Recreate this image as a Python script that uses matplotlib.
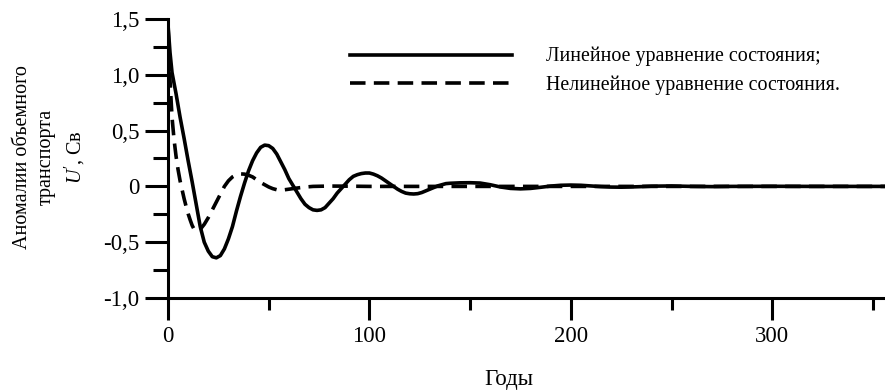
import matplotlib
matplotlib.use("Agg")
import matplotlib.pyplot as plt
from matplotlib.ticker import MultipleLocator, FixedLocator

plt.rcParams['font.family'] = ['Liberation Serif', 'DejaVu Serif']
plt.rcParams['mathtext.fontset'] = 'custom'
plt.rcParams['mathtext.rm'] = 'Liberation Serif'
plt.rcParams['mathtext.it'] = 'Liberation Serif:italic'

# ---- data (years, anomalies of volume transport, Sv) ----
t_lin = [0, 1, 2, 4, 6, 8, 10, 12, 14, 16, 18, 20, 22, 24, 26, 28, 30, 32, 34, 36,
         38, 40, 42, 44, 46, 48, 50, 52, 54, 56, 58, 60, 62, 64, 66, 68, 70, 72, 74,
         76, 78, 80, 82, 84, 86, 88, 90, 92, 94, 96, 98, 100, 102, 104, 106, 108,
         110, 112, 114, 116, 118, 120, 122, 124, 126, 128, 130, 132, 134, 136, 138,
         140, 145, 150, 155, 160, 165, 170, 175, 180, 185, 190, 195, 200, 205, 210,
         215, 220, 225, 230, 235, 240, 250, 260, 270, 280, 300, 320, 356]
u_lin = [1.45, 1.2, 1.02, 0.83, 0.62, 0.43, 0.23, 0.04, -0.16, -0.36, -0.50, -0.58,
         -0.63, -0.64, -0.62, -0.56, -0.47, -0.36, -0.22, -0.09, 0.03, 0.14, 0.23,
         0.30, 0.35, 0.37, 0.365, 0.34, 0.29, 0.22, 0.15, 0.07, 0.01, -0.05, -0.11,
         -0.16, -0.19, -0.21, -0.215, -0.21, -0.19, -0.15, -0.11, -0.06, -0.02, 0.02,
         0.06, 0.09, 0.105, 0.115, 0.12, 0.12, 0.11, 0.095, 0.075, 0.05, 0.025, 0.0,
         -0.025, -0.045, -0.06, -0.066, -0.068, -0.065, -0.055, -0.04, -0.025, -0.01,
         0.005, 0.015, 0.025, 0.028, 0.032, 0.033, 0.03, 0.015, -0.005, -0.018,
         -0.022, -0.018, -0.008, 0.003, 0.01, 0.012, 0.01, 0.004, -0.002, -0.006,
         -0.007, -0.005, -0.002, 0.002, 0.004, 0.0, -0.002, 0.0, 0.001, 0.0, 0.0]

t_nl = [0, 1, 2, 3, 4, 5, 6, 7, 8, 9, 10, 11, 12, 13, 14, 15, 16, 18, 20, 22, 24,
        26, 28, 30, 32, 34, 36, 38, 40, 42, 44, 46, 48, 50, 52, 54, 56, 58, 60, 64,
        68, 72, 80, 90, 100, 150, 200, 250, 300, 356]
u_nl = [1.45, 0.95, 0.62, 0.42, 0.27, 0.15, 0.05, -0.03, -0.11, -0.18, -0.245,
        -0.30, -0.35, -0.385, -0.40, -0.40, -0.385, -0.34, -0.28, -0.21, -0.14,
        -0.07, 0.0, 0.05, 0.085, 0.105, 0.112, 0.11, 0.10, 0.085, 0.06, 0.035, 0.015,
        -0.005, -0.02, -0.03, -0.032, -0.03, -0.025, -0.015, -0.006, 0.0, 0.003,
        0.002, 0.0, 0.0, 0.0, 0.0, 0.0, 0.0]

labels = ["Линейное уравнение состояния;", "Нелинейное уравнение состояния."]
xticks_major = [0, 100, 200, 300]
xtick_labels = ["0", "100", "200", "300"]
yticks_major = [-1.0, -0.5, 0.0, 0.5, 1.0, 1.5]
ytick_labels = ["-1,0", "-0,5", "0", "0,5", "1,0", "1,5"]

W, H = 885, 390
fig = plt.figure(figsize=(W / 100, H / 100), dpi=100)
ax = fig.add_axes([168 / W, 1 - 298 / H, 1 - 168 / W, (298 - 19) / H])

l1, = ax.plot(t_lin, u_lin, color='black', lw=2.6, solid_joinstyle='round',
              label=labels[0])
l2, = ax.plot(t_nl, u_nl, color='black', lw=2.6, linestyle=(0, (4.3, 2.3)),
              label=labels[1])

ax.set_xlim(0, 356)
ax.set_ylim(-1.0, 1.5)

for s in ['top', 'right']:
    ax.spines[s].set_visible(False)
for s in ['left', 'bottom']:
    ax.spines[s].set_linewidth(2.2)

ax.xaxis.set_major_locator(FixedLocator(xticks_major))
ax.set_xticklabels(xtick_labels)
ax.xaxis.set_minor_locator(MultipleLocator(50))
ax.yaxis.set_major_locator(FixedLocator(yticks_major))
ax.set_yticklabels(ytick_labels)
ax.yaxis.set_minor_locator(MultipleLocator(0.25))

ax.tick_params(axis='x', which='major', direction='out', length=16, width=2.2,
               labelsize=16.5, pad=4)
ax.tick_params(axis='x', which='minor', direction='out', length=8.6, width=2.2)
ax.tick_params(axis='y', which='major', direction='out', length=16.5, width=2.2,
               labelsize=16.5, pad=4)
ax.tick_params(axis='y', which='minor', direction='out', length=10.8, width=2.2)

leg = ax.legend(handles=[l1, l2], loc='upper left',
                bbox_to_anchor=(350 / W, 1 - 47 / H), bbox_transform=fig.transFigure,
                frameon=False, fontsize=14.4, handlelength=8.1, handletextpad=1.7,
                labelspacing=0.45, borderpad=0, borderaxespad=0)

fig.text(509 / W, 1 - 380 / H, "Годы", ha='center', va='center', fontsize=16.5)
fig.text(50 / W, 1 - 157 / H, "Аномалии объемного\nтранспорта\n$U'$, Св",
         rotation=90, ha='center', va='center', multialignment='center',
         fontsize=14.5, linespacing=1.35)

fig.savefig("out.png", dpi=100)
